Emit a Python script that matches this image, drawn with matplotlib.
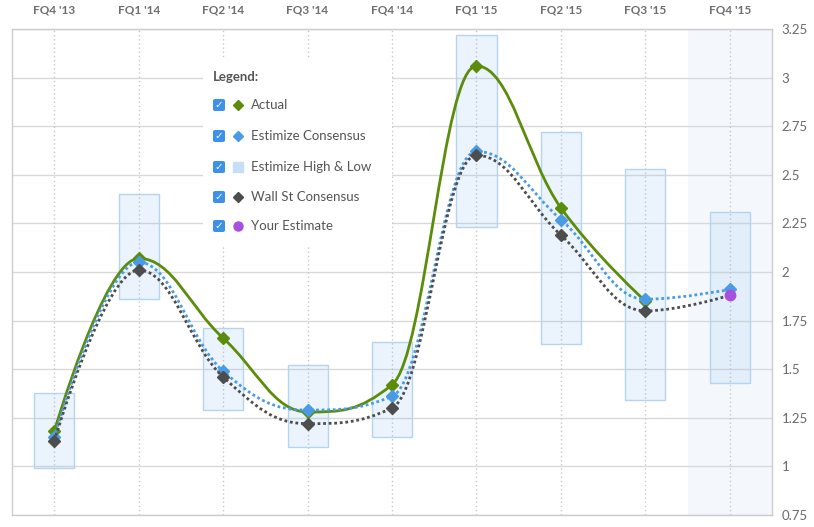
import matplotlib
matplotlib.use("Agg")
import matplotlib.pyplot as plt
import numpy as np
from matplotlib.path import Path
from matplotlib.patches import PathPatch, Rectangle, FancyBboxPatch
from matplotlib.lines import Line2D

plt.rcParams['font.family'] = ['Lato', 'DejaVu Sans']

quarters = ["FQ4 '13", "FQ1 '14", "FQ2 '14", "FQ3 '14", "FQ4 '14",
            "FQ1 '15", "FQ2 '15", "FQ3 '15", "FQ4 '15"]
actual = [1.18, 2.07, 1.66, 1.28, 1.42, 3.06, 2.33, 1.85]
estimize = [1.15, 2.05, 1.49, 1.29, 1.36, 2.62, 2.27, 1.86, 1.91]
wallst = [1.13, 2.01, 1.46, 1.22, 1.30, 2.60, 2.19, 1.80, 1.88]
est_high = [1.38, 2.40, 1.71, 1.52, 1.64, 3.22, 2.72, 2.53, 2.31]
est_low = [0.99, 1.86, 1.29, 1.10, 1.15, 2.23, 1.63, 1.34, 1.43]
your_estimate = [1.88]
your_estimate_idx = [8]
yticks = [0.75, 1, 1.25, 1.5, 1.75, 2, 2.25, 2.5, 2.75, 3, 3.25]
ytick_labels = ["0.75", "1", "1.25", "1.5", "1.75", "2", "2.25", "2.5", "2.75", "3", "3.25"]
legend_labels = ["Actual", "Estimize Consensus", "Estimize High & Low",
                 "Wall St Consensus", "Your Estimate"]

W, H = 814, 527
fig = plt.figure(figsize=(W / 100, H / 100), dpi=100)
ax = fig.add_axes([12 / W, 12 / H, 760 / W, 486 / H])


def spline_path(xs, ys, smoothing=1.5):
    xs = list(map(float, xs)); ys = list(map(float, ys))
    n = len(xs)
    denom = smoothing + 1
    lefts, rights = [], []
    for i in range(n):
        px, py = xs[i], ys[i]
        if 0 < i < n - 1:
            lx, ly = xs[i - 1], ys[i - 1]
            nx, ny = xs[i + 1], ys[i + 1]
            lcx = (smoothing * px + lx) / denom
            lcy = (smoothing * py + ly) / denom
            rcx = (smoothing * px + nx) / denom
            rcy = (smoothing * py + ny) / denom
            if rcx != lcx:
                corr = (rcy - lcy) * (rcx - px) / (rcx - lcx) + py - rcy
                lcy += corr; rcy += corr
            if lcy > ly and lcy > py:
                lcy = max(ly, py); rcy = 2 * py - lcy
            elif lcy < ly and lcy < py:
                lcy = min(ly, py); rcy = 2 * py - lcy
            if rcy > ny and rcy > py:
                rcy = max(ny, py); lcy = 2 * py - rcy
            elif rcy < ny and rcy < py:
                rcy = min(ny, py); lcy = 2 * py - rcy
            lefts.append((lcx, lcy)); rights.append((rcx, rcy))
        else:
            lefts.append((px, py)); rights.append((px, py))
    verts = [(xs[0], ys[0])]
    codes = [Path.MOVETO]
    for i in range(1, n):
        verts += [rights[i - 1], lefts[i], (xs[i], ys[i])]
        codes += [Path.CURVE4] * 3
    return Path(verts, codes)


x = np.arange(len(quarters))

# shaded upcoming quarter
ax.axvspan(7.5, 8.5, color='#f4f8fc', zorder=0.1, lw=0)

# grid
for yv in yticks:
    ax.axhline(yv, color='#d9d9d9', lw=1, zorder=0.5)
for xv in x:
    ax.axvline(xv, color='#c8c8c8', lw=1, ls=(0, (1, 2)), zorder=0.5)

# high/low boxes
ax.bar(x, np.array(est_high) - np.array(est_low), bottom=est_low, width=0.475,
       color=(124 / 255, 181 / 255, 236 / 255, 0.15),
       edgecolor='#b5d4f0', lw=1, zorder=2)

# lines
series = [
    (actual, '#5b8c0a', '-', 3),
    (estimize, '#4a9be6', (0, (1, 1)), 4),
    (wallst, '#4d4d4d', (0, (1, 1)), 5),
]
for vals, col, ls, z in series:
    p = spline_path(x[:len(vals)], vals)
    ax.add_patch(PathPatch(p, fill=False, edgecolor=col, lw=2, ls=ls, zorder=z,
                           capstyle='butt'))

ax.plot(x[:len(actual)], actual, ls='none', marker='D', ms=6.2, color='#5b8c0a', zorder=3.5)
ax.plot(x[:len(estimize)], estimize, ls='none', marker='D', ms=6.2, color='#4a9be6', zorder=4.5)
ax.plot(x[:8], wallst[:8], ls='none', marker='D', ms=6.2, color='#4d4d4d', zorder=5.5)
ax.plot(np.array(your_estimate_idx), your_estimate, ls='none', marker='o', ms=7.5,
        color='#a84fdf', zorder=6)

ax.set_xlim(-0.5, 8.5)
ax.set_ylim(0.75, 3.25)
ax.xaxis.tick_top()
ax.set_xticks(x)
ax.set_xticklabels(quarters, fontsize=8.5, fontweight='bold', color='#6e6e6e')
ax.yaxis.tick_right()
ax.set_yticks(yticks)
ax.set_yticklabels(ytick_labels, fontsize=9.5, color='#6a6a6a')
ax.tick_params(axis='x', length=0, pad=10)
ax.tick_params(axis='y', length=0, pad=7)
for s in ax.spines.values():
    s.set_color('#cccccc')
    s.set_linewidth(1)


def fx(px):
    return px / W


def fy(py):
    return 1 - py / H


# legend
fig.patches.append(Rectangle((fx(203), fy(247)), fx(392) - fx(203), fy(58) - fy(247),
                             transform=fig.transFigure, facecolor='white', edgecolor='none',
                             zorder=7))
fig.text(fx(213), fy(77), "Legend:", fontsize=9.5, fontweight='bold', color='#555555',
         va='center', ha='left', zorder=8)
rows_y = [105, 136, 167, 197, 226]
markers = [('D', '#5b8c0a', 5.0), ('D', '#4a9be6', 5.0), ('s', '#c6dff5', 6.5),
           ('D', '#4d4d4d', 5.0), ('o', '#a84fdf', 6.5)]
for yy, lab, (mk, mc, ms) in zip(rows_y, legend_labels, markers):
    fig.patches.append(FancyBboxPatch((fx(213), fy(yy + 6)), fx(12), 12 / H,
                                      boxstyle='round,pad=0,rounding_size=0.003',
                                      transform=fig.transFigure, facecolor='#3d91e8',
                                      edgecolor='none', zorder=8))
    fig.text(fx(219), fy(yy), "\u2713", fontsize=7.5, color='white', ha='center', va='center',
             family='DejaVu Sans', fontweight='bold', zorder=9)
    fig.lines.append(Line2D([fx(238)], [fy(yy)], transform=fig.transFigure, marker=mk,
                            ms=ms, color=mc, ls='none', zorder=8))
    fig.text(fx(251), fy(yy), lab, fontsize=9.5, color='#555555', ha='left', va='center',
             zorder=8)

fig.savefig('out.png', dpi=100)
